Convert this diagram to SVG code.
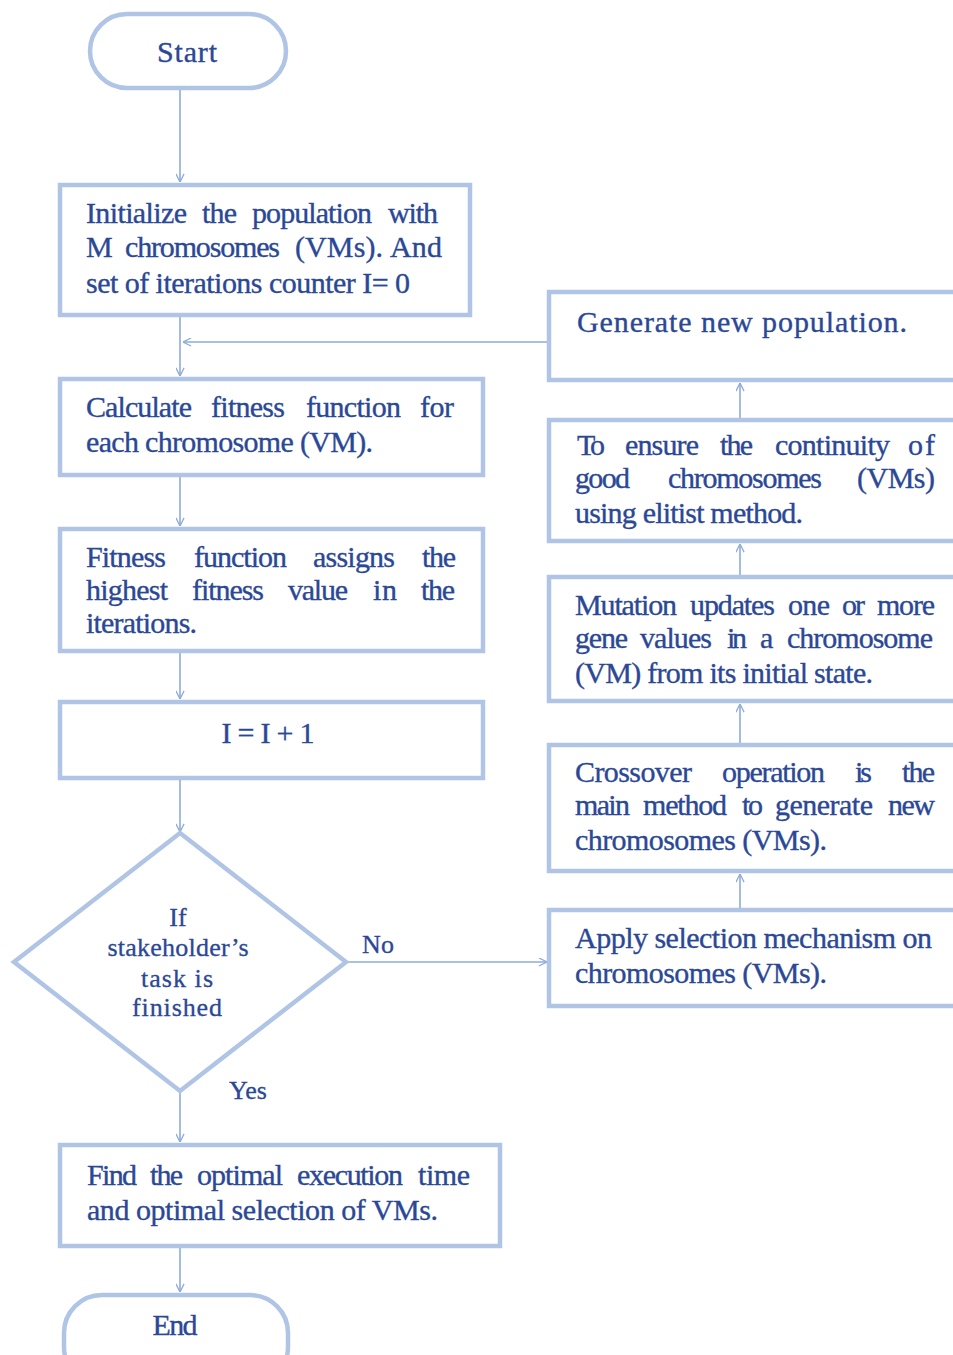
<svg xmlns="http://www.w3.org/2000/svg" width="953" height="1355" viewBox="0 0 953 1355">
<style>
.box{fill:#ffffff;stroke:#b0c4e6;stroke-width:4.5}
.t{font-family:"Liberation Serif","Times New Roman",serif;font-size:30px;fill:#2b4896;stroke:#2b4896;stroke-width:0.35}
.d{font-family:"Liberation Serif","Times New Roman",serif;font-size:26px;fill:#2b4896;stroke:#2b4896;stroke-width:0.3}
.c{fill:none;stroke:#8eaadb;stroke-width:1.6}
</style>
<defs>
<marker id="arr" viewBox="0 0 10 10" refX="10" refY="5" markerWidth="9" markerHeight="9" markerUnits="userSpaceOnUse" orient="auto">
<path d="M1,0.5 L10,5 L1,9.5" fill="none" stroke="#8eaadb" stroke-width="1.4"/>
</marker>
</defs>
<rect width="953" height="1355" fill="#ffffff"/>
<g id="connectors">
<line class="c" x1="180" y1="90" x2="180" y2="182" marker-end="url(#arr)"/>
<line class="c" x1="180" y1="317" x2="180" y2="376" marker-end="url(#arr)"/>
<line class="c" x1="548" y1="342" x2="183" y2="342" marker-end="url(#arr)"/>
<line class="c" x1="180" y1="477" x2="180" y2="526" marker-end="url(#arr)"/>
<line class="c" x1="180" y1="653" x2="180" y2="699" marker-end="url(#arr)"/>
<line class="c" x1="180" y1="780" x2="180" y2="832" marker-end="url(#arr)"/>
<line class="c" x1="346" y1="962" x2="547" y2="962" marker-end="url(#arr)"/>
<line class="c" x1="180" y1="1091" x2="180" y2="1142" marker-end="url(#arr)"/>
<line class="c" x1="180" y1="1248" x2="180" y2="1292" marker-end="url(#arr)"/>
<line class="c" x1="740" y1="908" x2="740" y2="874" marker-end="url(#arr)"/>
<line class="c" x1="740" y1="743" x2="740" y2="704" marker-end="url(#arr)"/>
<line class="c" x1="740" y1="575" x2="740" y2="544" marker-end="url(#arr)"/>
<line class="c" x1="740" y1="418" x2="740" y2="383" marker-end="url(#arr)"/>
</g>
<text class="d" x="378" y="953" text-anchor="middle" font-size="29">No</text>
<text class="d" x="248" y="1099" text-anchor="middle" font-size="29">Yes</text>

<g id="start">
<rect class="box" x="90" y="14" width="196" height="74" rx="37"/>
<text class="t" x="187" y="62" text-anchor="middle" textLength="60">Start</text>
</g>
<g id="init">
<rect class="box" x="60" y="185" width="410" height="130"/>
<text class="t" y="223"><tspan x="86" textLength="101">Initialize</tspan> <tspan x="202" textLength="35">the</tspan> <tspan x="252" textLength="120">population</tspan> <tspan x="388" textLength="50">with</tspan></text>
<text class="t" y="257"><tspan x="86" textLength="27">M</tspan> <tspan x="125" textLength="155">chromosomes</tspan> <tspan x="295" textLength="88">(VMs).</tspan> <tspan x="390" textLength="52">And</tspan></text>
<text class="t" x="86" y="293" textLength="324">set of iterations counter I= 0</text>
</g>
<g id="calc">
<rect class="box" x="60" y="379" width="423" height="96"/>
<text class="t" y="417"><tspan x="86" textLength="106">Calculate</tspan> <tspan x="211" textLength="74">fitness</tspan> <tspan x="306" textLength="95">function</tspan> <tspan x="420" textLength="34">for</tspan></text>
<text class="t" x="86" y="452" textLength="287">each chromosome (VM).</text>
</g>
<g id="assign">
<rect class="box" x="60" y="529" width="423" height="122"/>
<text class="t" y="567"><tspan x="86" textLength="80">Fitness</tspan> <tspan x="194" textLength="93">function</tspan> <tspan x="313" textLength="82">assigns</tspan> <tspan x="422" textLength="34">the</tspan></text>
<text class="t" y="600"><tspan x="86" textLength="82">highest</tspan> <tspan x="192" textLength="72">fitness</tspan> <tspan x="288" textLength="60">value</tspan> <tspan x="373" textLength="24">in</tspan> <tspan x="421" textLength="34">the</tspan></text>
<text class="t" x="86" y="633" textLength="111">iterations.</text>
</g>
<g id="incr">
<rect class="box" x="60" y="702" width="423" height="76"/>
<text class="t" x="268" y="743" text-anchor="middle" textLength="93">I = I + 1</text>
</g>
<g id="decision">
<polygon class="box" points="180,833 346,962 180,1091 14,962"/>
<text class="d" x="178" y="926" text-anchor="middle">If</text>
<text class="d" x="178" y="956" text-anchor="middle" textLength="141">stakeholder’s</text>
<text class="d" x="177" y="987" text-anchor="middle" textLength="72">task is</text>
<text class="d" x="177" y="1016" text-anchor="middle" textLength="90">finished</text>
</g>
<g id="find">
<rect class="box" x="60" y="1145" width="440" height="101"/>
<text class="t" y="1185"><tspan x="87" textLength="50">Find</tspan> <tspan x="150" textLength="33">the</tspan> <tspan x="197" textLength="86">optimal</tspan> <tspan x="297" textLength="106">execution</tspan> <tspan x="418" textLength="52">time</tspan></text>
<text class="t" x="87" y="1220" textLength="351">and optimal selection of VMs.</text>
</g>
<g id="end">
<rect class="box" x="64" y="1295" width="224" height="90" rx="38"/>
<text class="t" x="175" y="1335" text-anchor="middle" textLength="45">End</text>
</g>

<g id="generate">
<rect class="box" x="549" y="292" width="430" height="88"/>
<text class="t" x="577" y="332" textLength="330">Generate new population.</text>
</g>
<g id="elitist">
<rect class="box" x="549" y="420" width="430" height="121"/>
<text class="t" y="455"><tspan x="577" textLength="28">To</tspan> <tspan x="625" textLength="74">ensure</tspan> <tspan x="720" textLength="33">the</tspan> <tspan x="775" textLength="115">continuity</tspan> <tspan x="908" textLength="27">of</tspan></text>
<text class="t" y="488"><tspan x="575" textLength="55">good</tspan> <tspan x="668" textLength="154">chromosomes</tspan> <tspan x="857" textLength="78">(VMs)</tspan></text>
<text class="t" x="575" y="523" textLength="228">using elitist method.</text>
</g>
<g id="mutation">
<rect class="box" x="549" y="577" width="430" height="124"/>
<text class="t" y="615"><tspan x="575" textLength="102">Mutation</tspan> <tspan x="690" textLength="85">updates</tspan> <tspan x="788" textLength="42">one</tspan> <tspan x="842" textLength="23">or</tspan> <tspan x="877" textLength="58">more</tspan></text>
<text class="t" y="648"><tspan x="575" textLength="53">gene</tspan> <tspan x="640" textLength="72">values</tspan> <tspan x="727" textLength="20">in</tspan> <tspan x="760" textLength="13">a</tspan> <tspan x="787" textLength="146">chromosome</tspan></text>
<text class="t" x="575" y="683" textLength="298">(VM) from its initial state.</text>
</g>
<g id="crossover">
<rect class="box" x="549" y="745" width="430" height="126"/>
<text class="t" y="782"><tspan x="575" textLength="117">Crossover</tspan> <tspan x="722" textLength="103">operation</tspan> <tspan x="855" textLength="17">is</tspan> <tspan x="902" textLength="33">the</tspan></text>
<text class="t" y="815"><tspan x="575" textLength="55">main</tspan> <tspan x="643" textLength="84">method</tspan> <tspan x="742" textLength="21">to</tspan> <tspan x="775" textLength="98">generate</tspan> <tspan x="888" textLength="47">new</tspan></text>
<text class="t" x="575" y="850" textLength="252">chromosomes (VMs).</text>
</g>
<g id="selection">
<rect class="box" x="549" y="910" width="430" height="96"/>
<text class="t" x="575" y="948" textLength="357">Apply selection mechanism on</text>
<text class="t" x="575" y="983" textLength="252">chromosomes (VMs).</text>
</g>
</svg>
